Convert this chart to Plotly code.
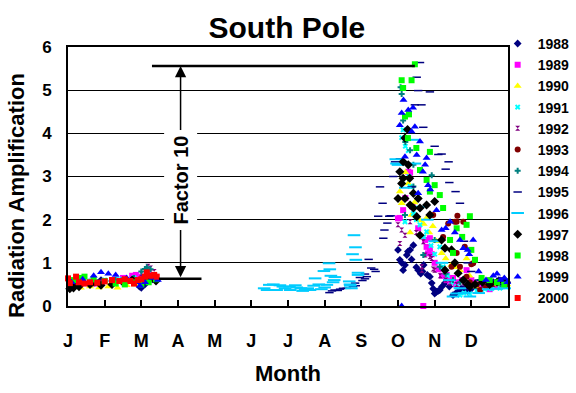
import plotly.graph_objects as go

# ---------------- data: (month as fraction of year, radiation amplification) ----------------
month_labels = ["J", "F", "M", "A", "M", "J", "J", "A", "S", "O", "N", "D"]
years = ["1988", "1989", "1990", "1991", "1992", "1993", "1994",
         "1995", "1996", "1997", "1998", "1999", "2000"]

pts_1988 = [(0.05, 0.55), (0.3, 0.52), (0.6, 0.55), (0.9, 0.6), (1.2, 0.58), (1.5, 0.6), (1.8, 0.55),
            (1.95, 0.45), (2.0, 0.42), (2.1, 0.5), (2.3, 0.62), (2.4, 0.6),
            (9.0, 1.3), (9.05, 1.07), (9.1, 1.0), (9.14, 0.83), (9.19, 0.95), (9.24, 1.18), (9.27, 1.26),
            (9.33, 1.3), (9.37, 1.08), (9.42, 1.41), (9.5, 0.9), (9.55, 0.83), (9.62, 0.75), (9.67, 0.8),
            (9.7, 0.95), (9.8, 0.72), (9.87, 0.68), (9.92, 0.53), (9.96, 0.4), (10.0, 0.29), (10.05, 0.33),
            (10.1, 0.35), (10.14, 0.37), (10.2, 0.45), (10.28, 0.53), (10.33, 0.6), (10.4, 0.45),
            (10.5, 0.25), (10.58, 0.3), (10.64, 0.33), (10.72, 0.4), (10.8, 0.42), (10.9, 0.35),
            (11.0, 0.4), (11.15, 0.45), (11.3, 0.5), (11.45, 0.48), (11.6, 0.55), (11.75, 0.6),
            (11.9, 0.5), (11.98, 0.55)]
pts_1989 = [(0.1, 0.5), (0.4, 0.55), (0.8, 0.52), (1.2, 0.6), (1.5, 0.65), (1.75, 0.7), (1.85, 0.72),
            (2.0, 0.68), (2.2, 0.75), (2.35, 0.7),
            (9.0, 2.03), (9.05, 2.04), (9.14, 2.22), (9.2, 2.5), (9.28, 3.11), (9.33, 3.09), (9.4, 2.3),
            (9.55, 1.8), (9.69, 0.0), (9.74, 1.53), (9.78, 1.37), (9.82, 1.22), (9.87, 1.57), (9.87, 1.34),
            (9.92, 1.2), (10.0, 1.0), (10.1, 0.85), (10.2, 0.7), (10.33, 0.6), (10.33, 0.72), (10.42, 0.57),
            (10.5, 0.65), (10.58, 0.5), (10.64, 0.55), (10.75, 0.6), (10.87, 0.83), (11.0, 0.6),
            (11.2, 0.5), (11.5, 0.39), (11.7, 0.45), (11.9, 0.5)]
pts_1990 = [(0.1, 0.45), (0.35, 0.42), (0.6, 0.45), (0.85, 0.43), (1.1, 0.45), (1.35, 0.42), (1.6, 0.48),
            (1.85, 0.5), (2.05, 0.55), (2.25, 0.6), (2.4, 0.62),
            (9.05, 2.65), (9.1, 2.38), (9.14, 2.96), (9.2, 3.1), (9.28, 2.84), (9.33, 1.7), (9.37, 2.11),
            (9.45, 2.4), (9.6, 1.98), (9.7, 1.9), (9.78, 2.04), (9.85, 1.7), (9.95, 1.85), (10.05, 1.5),
            (10.19, 1.22), (10.3, 1.1), (10.45, 0.95), (10.6, 0.9), (10.69, 0.83), (10.87, 1.1),
            (10.95, 0.7), (11.14, 0.45), (11.3, 0.55), (11.5, 0.5), (11.7, 0.5), (11.85, 0.55), (11.98, 0.5)]
pts_1991 = [(0.2, 0.55), (0.6, 0.58), (1.0, 0.6), (1.4, 0.62), (1.8, 0.65), (2.2, 0.68),
            (9.1, 3.9), (9.14, 4.08), (9.2, 3.7), (9.28, 3.6), (9.3, 3.0), (9.33, 2.77), (9.42, 2.14),
            (9.19, 1.95), (9.5, 2.0), (9.6, 1.88), (9.7, 1.6), (9.78, 1.72), (9.9, 1.4), (10.0, 1.2),
            (10.14, 1.37), (10.23, 0.91), (10.35, 0.7), (10.45, 0.55), (10.6, 0.45), (10.69, 0.25),
            (10.8, 0.3), (10.96, 0.28), (11.15, 0.35), (11.37, 0.39), (11.55, 0.4), (11.78, 0.41),
            (11.95, 0.45)]
pts_1992 = [(0.3, 0.5), (0.9, 0.55), (1.5, 0.6), (2.0, 0.75), (2.18, 0.92), (2.25, 0.88), (2.35, 0.8),
            (9.0, 1.88), (9.05, 1.45), (9.1, 1.76), (9.19, 1.64), (9.33, 1.95), (9.5, 1.7), (9.65, 0.83),
            (9.65, 0.91), (9.69, 1.49), (9.74, 1.18), (9.87, 1.14), (9.92, 1.1), (9.96, 0.86), (10.0, 0.83),
            (10.15, 0.7), (10.3, 0.6), (10.42, 0.53), (10.6, 0.5), (10.8, 0.45), (11.0, 0.5), (11.3, 0.48),
            (11.6, 0.5), (11.9, 0.55)]
pts_1993 = [(0.2, 0.5), (0.7, 0.52), (1.2, 0.55), (1.7, 0.58), (2.2, 0.6),
            (9.96, 2.11), (10.23, 1.6), (10.37, 1.91), (10.46, 0.91), (10.55, 1.95), (10.6, 1.95),
            (10.6, 1.23), (10.62, 2.09), (10.69, 0.91), (10.78, 1.95), (10.82, 1.37), (10.87, 0.68),
            (10.96, 0.55), (11.0, 0.97), (11.05, 0.99), (11.15, 0.5), (11.24, 0.37), (11.4, 0.45),
            (11.55, 0.5), (11.7, 0.55), (11.85, 0.6), (11.97, 0.5)]
pts_1994 = [(0.3, 0.52), (0.8, 0.55), (1.3, 0.6), (1.8, 0.65), (2.0, 0.8), (2.1, 0.86), (2.15, 0.9),
            (2.25, 0.85),
            (9.07, 5.07), (9.1, 4.91), (9.14, 4.3), (9.2, 3.8), (9.28, 2.96), (9.33, 3.61), (9.42, 3.27),
            (9.42, 2.77), (9.19, 2.11), (9.55, 2.5), (9.69, 1.18), (9.92, 3.03), (10.0, 1.53),
            (10.14, 0.91), (10.3, 0.75), (10.5, 0.6), (10.7, 0.55), (10.96, 0.45), (11.23, 0.6),
            (11.5, 0.55), (11.8, 0.5)]
pts_1995 = [(7.13, 0.31), (7.2, 0.35), (7.27, 0.37), (7.36, 0.36), (7.42, 0.39), (7.5, 0.41), (7.6, 0.41),
            (7.77, 0.45), (7.83, 0.53), (7.85, 0.47), (7.96, 0.66), (8.03, 0.59), (8.1, 0.63), (8.1, 0.74),
            (8.15, 0.68), (8.2, 1.08), (8.27, 0.88), (8.35, 0.85), (8.39, 0.8), (8.46, 2.08), (8.51, 2.76),
            (8.58, 2.38), (8.6, 1.57), (8.63, 1.76), (8.71, 1.92), (8.76, 2.08), (8.8, 2.09), (8.87, 3.0),
            (8.92, 3.34), (9.05, 3.41), (9.37, 2.76), (9.46, 4.66), (9.51, 5.3), (9.55, 4.99), (9.6, 5.64),
            (9.64, 4.66), (9.69, 4.14), (9.87, 4.96), (10.0, 3.7), (10.1, 3.51), (10.19, 3.52),
            (10.3, 3.17), (10.38, 3.34), (10.4, 2.86), (10.57, 2.65), (10.69, 2.38), (10.8, 1.5),
            (10.9, 1.0), (11.0, 0.8), (11.2, 0.6), (11.5, 0.55), (11.8, 0.5)]
pts_1996 = [(5.35, 0.41), (5.43, 0.37), (5.49, 0.49), (5.6, 0.5), (5.69, 0.37), (5.78, 0.48), (5.86, 0.45),
            (5.92, 0.41), (6.04, 0.45), (6.06, 0.37), (6.2, 0.48), (6.24, 0.43), (6.35, 0.41), (6.4, 0.35),
            (6.47, 0.37), (6.54, 0.41), (6.6, 0.37), (6.7, 0.47), (6.74, 0.64), (6.84, 0.5), (6.91, 0.39),
            (6.98, 0.81), (7.0, 0.43), (7.06, 0.49), (7.12, 0.99), (7.14, 0.85), (7.17, 0.7), (7.23, 0.55),
            (7.26, 0.6), (7.28, 0.67), (7.67, 0.57), (7.69, 0.5), (7.7, 0.47), (7.73, 0.41), (7.76, 1.2),
            (7.8, 1.64), (7.84, 1.36), (7.85, 1.07), (7.91, 0.77), (7.91, 0.72), (8.94, 3.4), (8.96, 3.3),
            (9.0, 3.27), (9.2, 2.74), (9.42, 3.85), (9.46, 3.3), (9.6, 2.3), (9.8, 2.0), (10.0, 1.5),
            (10.2, 1.0), (10.4, 0.6), (10.5, 0.22), (10.6, 0.29), (10.69, 0.41), (10.8, 0.3), (10.96, 0.22),
            (11.2, 0.3), (11.46, 0.39), (11.7, 0.4), (11.91, 0.41)]
pts_1997 = [(0.05, 0.4), (0.15, 0.42), (0.3, 0.45), (0.6, 0.5), (0.9, 0.48), (1.2, 0.5), (1.5, 0.55),
            (1.75, 0.6), (2.0, 0.58), (2.2, 0.62), (2.4, 0.58),
            (9.0, 2.49), (9.05, 3.11), (9.1, 2.84), (9.14, 3.34), (9.14, 2.96), (9.19, 3.89), (9.19, 2.49),
            (9.26, 4.09), (9.28, 3.27), (9.32, 2.96), (9.33, 2.34), (9.42, 2.61), (9.42, 2.27), (9.51, 2.07),
            (9.55, 2.49), (9.6, 2.27), (9.6, 1.64), (9.78, 2.34), (9.87, 2.11), (10.0, 2.42), (10.19, 1.53),
            (10.28, 1.34), (10.28, 0.83), (10.46, 1.3), (10.55, 1.0), (10.64, 0.76), (10.78, 0.6),
            (10.9, 0.5), (10.96, 0.45), (11.1, 0.5), (11.3, 0.55), (11.5, 0.5), (11.7, 0.55), (11.9, 0.6)]
pts_1998 = [(0.15, 0.6), (0.3, 0.65), (0.45, 0.68), (0.7, 0.62), (1.0, 0.58), (1.3, 0.52), (1.55, 0.5),
            (1.8, 0.55), (2.0, 0.5), (2.2, 0.55), (2.4, 0.62),
            (9.1, 5.23), (9.14, 5.05), (9.19, 4.39), (9.27, 3.89), (9.3, 4.44), (9.37, 5.23), (9.46, 5.6),
            (9.5, 3.66), (9.6, 3.15), (9.78, 2.92), (9.87, 3.57), (9.87, 2.65), (10.0, 2.8), (10.14, 2.57),
            (10.23, 2.27), (10.42, 1.53), (10.5, 1.23), (10.6, 1.8), (10.75, 1.6), (10.87, 1.88),
            (10.96, 2.08), (11.0, 1.3), (11.1, 1.07), (11.28, 0.65), (11.5, 0.6), (11.7, 0.55), (11.9, 0.5)]
pts_1999 = [(0.1, 0.55), (0.4, 0.62), (0.7, 0.7), (0.9, 0.78), (1.1, 0.75), (1.3, 0.72), (1.6, 0.65),
            (1.9, 0.55), (1.96, 0.47), (2.1, 0.55), (2.3, 0.65), (2.45, 0.6),
            (9.1, 0.0), (9.05, 4.19), (9.1, 4.47), (9.15, 4.77), (9.19, 3.46), (9.28, 4.54), (9.37, 4.04),
            (9.41, 4.59), (9.46, 4.15), (9.51, 3.5), (9.55, 2.61), (9.6, 3.81), (9.68, 3.11), (9.74, 3.27),
            (9.78, 3.43), (9.82, 2.8), (9.88, 2.7), (10.05, 2.22), (10.19, 1.76), (10.3, 1.8), (10.42, 1.95),
            (10.55, 1.7), (10.69, 1.53), (10.78, 1.34), (10.9, 1.3), (10.94, 1.2), (11.05, 1.53),
            (11.2, 0.8), (11.4, 0.6), (11.6, 0.7), (11.7, 0.75), (11.8, 0.6), (11.9, 0.65), (11.98, 0.55)]
pts_2000 = [(0.0, 0.64), (0.05, 0.53), (0.22, 0.68), (0.3, 0.55), (0.45, 0.52), (0.6, 0.55), (0.8, 0.54),
            (1.0, 0.57), (1.2, 0.6), (1.4, 0.58), (1.55, 0.62), (1.7, 0.58), (1.8, 0.52), (1.9, 0.6),
            (2.0, 0.62), (2.1, 0.68), (2.15, 0.78), (2.25, 0.7), (2.35, 0.72), (2.42, 0.68)]

series_points = [pts_1988, pts_1989, pts_1990, pts_1991, pts_1992, pts_1993, pts_1994,
                 pts_1995, pts_1996, pts_1997, pts_1998, pts_1999, pts_2000]

# annotation values
factor_top = 5.56
factor_bottom = 0.63

# ---------------- styles ----------------
styles = [
    dict(symbol="diamond", color="#000080", size=6),
    dict(symbol="square", color="#FF00FF", size=6),
    dict(symbol="triangle-up", color="#FFFF00", size=7),
    dict(symbol="x", color="#00FFFF", size=5),
    dict(symbol="hourglass", color="#800080", size=5),
    dict(symbol="circle", color="#800000", size=6),
    dict(symbol="cross", color="#008080", size=5),
    dict(symbol="line-ew", color="#000080", size=6, line=dict(color="#000080", width=1.5)),
    dict(symbol="line-ew", color="#00CCFF", size=9, line=dict(color="#00CCFF", width=2)),
    dict(symbol="diamond", color="#000000", size=7),
    dict(symbol="square", color="#00FF00", size=6),
    dict(symbol="triangle-up", color="#0000FF", size=7),
    dict(symbol="square", color="#FF0000", size=6),
]

FONT = "Liberation Sans, Arial, sans-serif"

fig = go.Figure()
for yr, pts, st in zip(years, series_points, styles):
    xs = [p[0] for p in pts]
    ys = [p[1] for p in pts]
    marker = dict(symbol=st["symbol"], color=st["color"], size=st["size"])
    if "line" in st:
        marker["line"] = st["line"]
    else:
        marker["line"] = dict(width=0)
    fig.add_trace(go.Scatter(x=xs, y=ys, mode="markers", name=yr, marker=marker,
                             cliponaxis=False))

fig.update_layout(
    width=576, height=393,
    margin=dict(l=68, r=68, t=47, b=87, autoexpand=False),
    paper_bgcolor="white", plot_bgcolor="white",
    font=dict(family=FONT, color="black", weight="bold"),
    title=dict(text="South Pole", x=0.498, xanchor="center", y=0.93, yanchor="middle",
               font=dict(size=30, family=FONT, weight="bold", color="black")),
    showlegend=True,
    legend=dict(xref="container", yref="container", x=0.864, xanchor="left",
                y=0.929, yanchor="top",
                font=dict(size=14, family=FONT, weight="bold"),
                bgcolor="rgba(0,0,0,0)", maxheight=385),
)

fig.update_xaxes(range=[0, 12], tickvals=list(range(12)), ticktext=month_labels,
                 ticks="inside", ticklen=6, tickwidth=2, tickcolor="black",
                 showline=True, linewidth=2, linecolor="black", mirror=True,
                 showgrid=False, zeroline=False, ticklabelstandoff=17,
                 tickfont=dict(size=18, family=FONT, weight="bold"),
                 title=dict(text="Month", font=dict(size=22, family=FONT, weight="bold"), standoff=16))
fig.update_yaxes(range=[0, 6], dtick=1, showgrid=True, gridcolor="black", gridwidth=1,
                 showline=True, linewidth=2, linecolor="black", mirror=True,
                 ticks="", zeroline=False, ticklabelstandoff=11,
                 tickfont=dict(size=17, family=FONT, weight="bold"))

# y-axis title
fig.add_annotation(text="Radiation Amplification", textangle=-90, xref="paper", yref="paper",
                   x=-0.116, y=0.4286, xanchor="center", yanchor="middle", showarrow=False,
                   font=dict(size=22, family=FONT, weight="bold", color="black"))

# Factor 10 reference lines
fig.add_shape(type="line", xref="x", yref="y", x0=2.29, x1=9.46, y0=factor_top, y1=factor_top,
              line=dict(color="black", width=2.5))
fig.add_shape(type="line", xref="x", yref="y", x0=2.48, x1=3.64, y0=factor_bottom, y1=factor_bottom,
              line=dict(color="black", width=2.5))
fig.add_annotation(x=3.07, y=factor_top, ax=3.07, ay=factor_bottom, xref="x", yref="y",
                   axref="x", ayref="y", text="", showarrow=True, arrowside="end+start",
                   arrowhead=2, startarrowhead=2, arrowsize=1.5, startarrowsize=1.5,
                   arrowwidth=1.5, arrowcolor="black", standoff=0, startstandoff=0)
fig.add_annotation(x=3.07, y=2.92, xref="x", yref="y", text="Factor 10", textangle=-90,
                   showarrow=False, bgcolor="white", borderpad=5,
                   font=dict(size=20, family=FONT, weight="bold", color="black"))

fig.write_html("out.html", config={"displayModeBar": False},
               post_script="document.body.style.margin='0px';")
